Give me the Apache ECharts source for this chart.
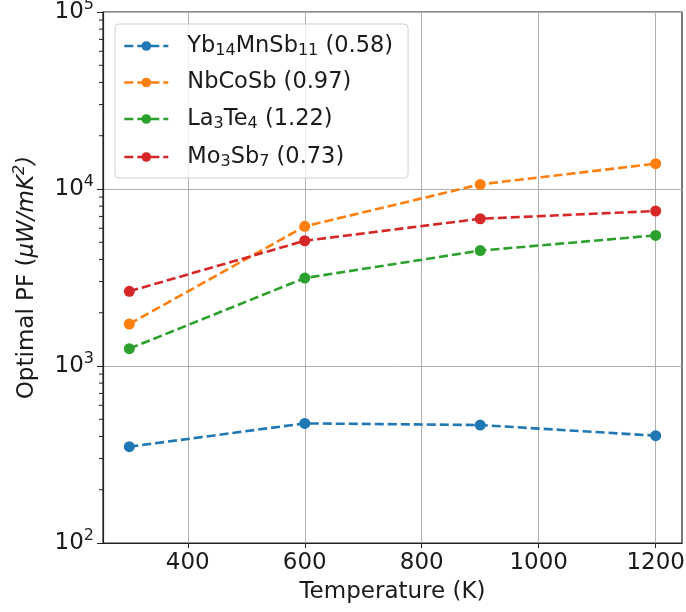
<!DOCTYPE html>
<html><head><meta charset="utf-8">
<script src="https://cdn.jsdelivr.net/npm/echarts@6/dist/echarts.min.js"></script>
<style>html,body{margin:0;padding:0;background:#fff}#c{width:686px;height:612px}</style>
</head><body><div id="c"></div>
<script>
const temperatures = [300, 600, 900, 1200];
const yb14mnsb11 = [350, 474, 464, 404];
const nbcosb = [1727, 6150, 10620, 13900];
const la3te4 = [1253, 3141, 4487, 5470];
const mo3sb7 = [2642, 5100, 6790, 7510];
const seriesNames = ['Yb14MnSb11 (0.58)', 'NbCoSb (0.97)', 'La3Te4 (1.22)', 'Mo3Sb7 (0.73)'];
const legendRich = {
  'Yb14MnSb11 (0.58)': 'Yb{sub|14}MnSb{sub|11} (0.58)',
  'NbCoSb (0.97)': 'NbCoSb (0.97)',
  'La3Te4 (1.22)': 'La{sub|3}Te{sub|4} (1.22)',
  'Mo3Sb7 (0.73)': 'Mo{sub|3}Sb{sub|7} (0.73)'
};
const xTickValues = [400, 600, 800, 1000, 1200];
const yMinorTicks = [200,300,400,500,600,700,800,900,2000,3000,4000,5000,6000,7000,8000,9000,20000,30000,40000,50000,60000,70000,80000,90000];
const colors = ['#1f77b4', '#ff7f0e', '#2ca02c', '#d62728'];
const F = 'DejaVu Sans';
const FS = 23;
const allData = [yb14mnsb11, nbcosb, la3te4, mo3sb7];

const chart = echarts.init(document.getElementById('c'), null, {renderer: 'canvas'});
const lineSeries = allData.map((d, i) => ({
  name: seriesNames[i],
  type: 'line',
  data: temperatures.map((t, j) => [t, d[j]]),
  symbol: 'circle',
  symbolSize: 11,
  itemStyle: {color: colors[i]},
  lineStyle: {color: colors[i], width: 2.6, type: [9, 4]},
  z: 3 + i,
  animation: false
}));
lineSeries.push({
  type: 'custom',
  data: yMinorTicks.map(v => [255, v]),
  clip: false,
  silent: true,
  animation: false,
  z: 10,
  renderItem: function (params, api) {
    const p = api.coord([api.value(0), api.value(1)]);
    return {type: 'line', shape: {x1: p[0] - 4, y1: p[1], x2: p[0], y2: p[1]}, style: {stroke: '#222', lineWidth: 1}};
  }
});

chart.setOption({
  backgroundColor: '#fff',
  animation: false,
  grid: {left: 103, right: 4, top: 12, bottom: 69, outerBoundsMode: 'none', containLabel: false, show: true, borderColor: '#222', borderWidth: 1.2, backgroundColor: 'transparent'},
  legend: {
    data: seriesNames,
    orient: 'vertical',
    left: 115, top: 24,
    padding: [9, 15, 8, 8],
    itemGap: 12,
    itemWidth: 44, itemHeight: 12,
    backgroundColor: 'rgba(255,255,255,0.8)',
    borderColor: '#d0d0d0', borderWidth: 1, borderRadius: 4,
    lineStyle: {width: 2.6, type: [9, 4]},
    formatter: n => legendRich[n],
    textStyle: {
      fontFamily: F, fontSize: 22.5, color: '#1a1a1a', lineHeight: 22, padding: [0, 0, 0, 14],
      rich: {sub: {fontFamily: F, fontSize: 16, lineHeight: 12, padding: [10, 0, 0, 0]}}
    }
  },
  xAxis: {
    type: 'value', min: 255, max: 1245,
    axisLine: {show: true, lineStyle: {color: '#222', width: 1.2}},
    axisTick: {show: true, length: 5, lineStyle: {color: '#222'}, customValues: xTickValues},
    axisLabel: {fontFamily: F, fontSize: FS, color: '#1a1a1a', margin: 9, customValues: xTickValues, formatter: v => String(v)},
    splitLine: {show: true, lineStyle: {color: '#b0b0b0', width: 1}},
    name: 'Temperature (K)', nameLocation: 'middle', nameGap: 38,
    nameTextStyle: {fontFamily: F, fontSize: FS, color: '#1a1a1a', verticalAlign: 'top'}
  },
  yAxis: {
    type: 'log', logBase: 10, min: 100, max: 100000,
    axisLine: {show: true, lineStyle: {color: '#222', width: 1.2}},
    axisTick: {show: true, length: 6, lineStyle: {color: '#222'}},
    axisLabel: {
      fontFamily: F, fontSize: FS, color: '#1a1a1a', margin: 9,
      formatter: v => '10{sup|' + Math.round(Math.log10(v)) + '}',
      rich: {sup: {fontFamily: F, fontSize: 16, color: '#1a1a1a', padding: [0, 0, 14, 0]}}
    },
    splitLine: {show: true, lineStyle: {color: '#b0b0b0', width: 1}},
    name: 'Optimal PF ({it|μW/mK}{sup|2}{it|)}', nameLocation: 'middle', nameGap: 61, nameRotate: 90,
    nameTextStyle: {
      fontFamily: F, fontSize: FS, color: '#1a1a1a',
      rich: {
        it: {fontFamily: F, fontSize: FS, fontStyle: 'italic', color: '#1a1a1a'},
        sup: {fontFamily: F, fontSize: 16, fontStyle: 'italic', color: '#1a1a1a', padding: [0, 0, 14, 0]}
      }
    }
  },
  series: lineSeries
});
</script></body></html>
